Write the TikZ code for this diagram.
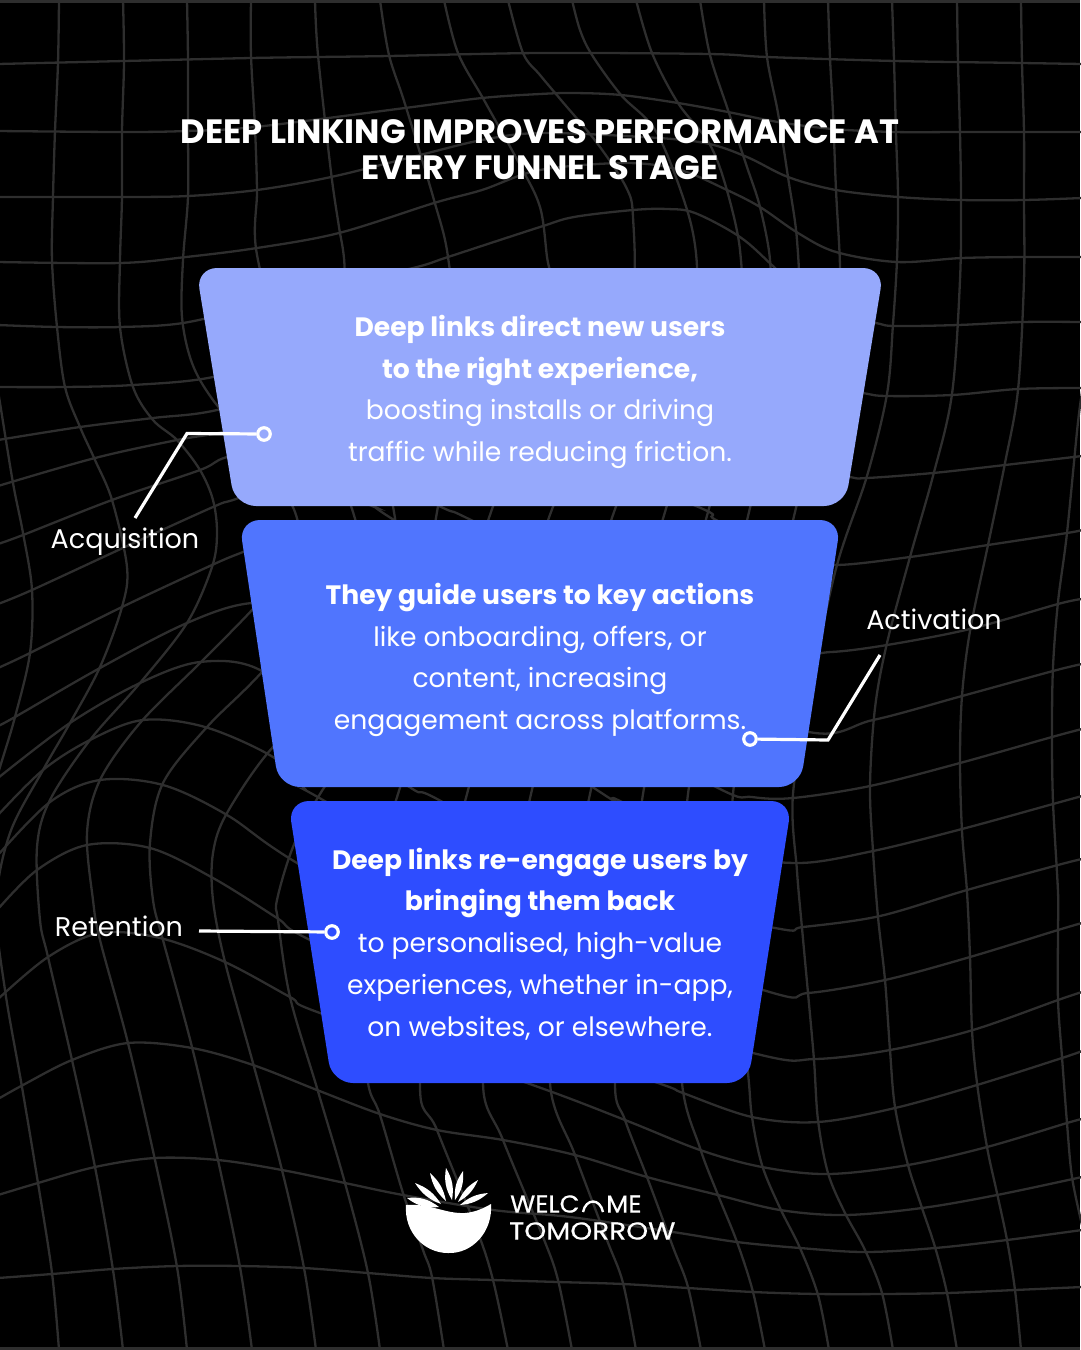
\documentclass[tikz,border=0pt]{standalone}
\usepackage{fontspec}
\setmainfont{Poppins}
\newfontfamily\logofont[FakeStretch=1.05, FakeBold=0.5]{Poppins}
\newfontfamily\logowide[FakeStretch=1.14, FakeBold=0.5]{Poppins}
\usetikzlibrary{arrows.meta, positioning, calc}
\definecolor{MeshGrey}{HTML}{2E2E2E}
\definecolor{AcqBlue}{HTML}{96A9FC}
\definecolor{ActBlue}{HTML}{5075FE}
\definecolor{RetBlue}{HTML}{2E4DFF}
\tikzset{
  meshline/.style={draw=MeshGrey, line width=2.3pt},
  boxtext/.style={text=white, align=center, font=\fontsize{26.6}{41.8}\selectfont},
  sidelabel/.style={text=white, inner sep=0pt, font=\fontsize{27}{32}\selectfont},
  leader/.style={draw=white, line width=3.2pt, line join=miter},
  ringdot/.style={circle, draw=white, line width=3.2pt, inner sep=0pt, minimum size=12.5pt},
  logotext/.style={text=white, inner sep=0pt, anchor=west, font=\fontsize{24.5}{26}\selectfont},
}
\newcommand{\mesh}[1]{\draw[meshline] plot[smooth, tension=0.55] coordinates {#1};}
\begin{document}
\begin{tikzpicture}[x=1pt, y=-1pt]
  \useasboundingbox (0,0) rectangle (1080,1350);
  \fill[black] (0,0) rectangle (1080,1350);
  % Mesh, across
  \mesh{(-2,64)(124,61)(251,58)(318,57)(389,56)(540,53)(709,54)(767,57)(895,61)(1022,63)(1082,64)}
  \mesh{(-2,131)(122,132)(186,131)(255,127)(405,108)(482,98)(540,94)(574,93)(621,95)(678,103)(728,112)(778,122)(833,129)(895,132)(960,132)(1024,132)(1082,132)}
  \mesh{(-2,197)(122,197)(188,196)(257,190)(331,177)(420,155)(482,140)(540,133)(643,137)(705,143)(747,157)(788,177)(836,190)(898,197)(961,200)(1024,200)(1082,198)}
  \mesh{(-2,262)(120,263)(186,257)(257,248)(339,233)(434,203)(482,190)(540,170)(626,163)(680,170)(727,190)(760,207)(798,233)(836,252)(897,262)(962,258)(1025,257)(1082,257)}
  \mesh{(-2,325)(57,327)(120,327)(183,323)(260,305)(340,285)(417,267)(448,257)(540,227)(574,217)(633,210)(667,209)(695,213)(740,237)(774,267)(820,310)(876,323)(895,326)(958,325)(1022,322)(1082,322)}
  \mesh{(-2,387)(65,387)(133,385)(213,377)(300,350)(500,300)(700,320)(800,380)(863,393)(887,396)(952,395)(1018,389)(1082,388)}
  \mesh{(-2,440)(80,427)(153,418)(217,410)(320,380)(520,370)(700,410)(800,465)(850,477)(867,478)(933,473)(1005,465)(1082,456)}
  \mesh{(-2,486)(95,458)(177,440)(223,432)(320,410)(500,430)(696,506)(716,520)(790,555)(833,565)(910,557)(988,545)(1067,533)(1082,530)}
  \mesh{(-2,544)(23,535)(112,500)(200,470)(227,457)(300,440)(439,506)(471,520)(650,610)(790,650)(831,652)(887,645)(970,629)(1058,604)(1082,599)}
  \mesh{(-2,604)(32,590)(125,547)(213,507)(233,500)(300,480)(372,506)(394,520)(600,650)(800,730)(873,720)(962,696)(1053,671)(1082,664)}
  \mesh{(-2,668)(30,653)(122,607)(212,565)(243,552)(300,530)(400,590)(560,700)(718,788)(752,797)(793,798)(870,786)(960,763)(1052,737)(1082,729)}
  \mesh{(-2,726)(15,717)(100,668)(187,623)(252,603)(330,610)(594,788)(618,800)(720,850)(797,863)(873,851)(962,829)(1053,804)(1082,796)}
  \mesh{(-2,778)(70,723)(140,683)(200,662)(260,670)(330,730)(411,788)(439,800)(600,890)(775,928)(803,927)(880,916)(967,890)(1058,865)(1082,859)}
  \mesh{(-2,815)(43,770)(90,740)(143,720)(205,727)(273,757)(304,788)(323,800)(500,900)(763,990)(808,993)(885,980)(970,957)(1058,930)(1082,923)}
  \mesh{(-2,855)(50,802)(100,780)(163,785)(227,815)(297,863)(500,980)(753,1053)(815,1059)(890,1050)(973,1030)(1058,1000)(1082,992)}
  \mesh{(-2,909)(37,870)(87,845)(150,848)(213,878)(277,918)(310,940)(500,1030)(658,1083)(683,1093)(752,1117)(818,1122)(895,1108)(977,1085)(1062,1058)(1082,1051)}
  \mesh{(-2,999)(48,957)(100,933)(160,938)(225,962)(290,997)(320,1013)(527,1083)(625,1120)(700,1150)(762,1167)(828,1174)(908,1165)(987,1147)(1067,1123)(1082,1119)}
  \mesh{(-2,1099)(23,1085)(72,1060)(128,1043)(192,1048)(253,1065)(317,1090)(380,1114)(437,1130)(503,1140)(575,1155)(647,1177)(718,1195)(780,1210)(845,1215)(922,1208)(997,1195)(1082,1177)}
  \mesh{(-2,1195)(38,1183)(95,1167)(155,1158)(218,1160)(282,1170)(345,1183)(403,1195)(493,1210)(570,1217)(673,1232)(737,1242)(800,1248)(865,1252)(935,1248)(1007,1240)(1082,1230)}
  \mesh{(-2,1278)(52,1274)(113,1269)(177,1266)(240,1266)(304,1268)(368,1273)(432,1278)(493,1280)(558,1282)(623,1284)(688,1288)(753,1292)(818,1294)(882,1294)(947,1293)(1015,1290)(1082,1287)}
  % Mesh, down
  \mesh{(-10,340)(0,403)(13,483)(23,533)(32,590)(30,653)(15,717)(0,767)(-10,800)}
  \mesh{(59,0)(58,63)(55,131)(53,197)(52,260)(57,327)(65,387)(80,427)(95,460)(112,500)(127,567)(122,607)(100,667)(70,723)(43,770)(10,833)(-4,905)(5,990)(22,1087)(38,1183)(52,1273)(59,1350)}
  \mesh{(123,0)(124,62)(122,131)(122,197)(120,260)(120,327)(133,387)(153,420)(177,440)(200,470)(213,500)(217,533)(212,567)(187,623)(140,683)(90,740)(50,800)(37,847)(40,920)(48,957)(72,1060)(95,1167)(113,1270)(123,1350)}
  \mesh{(187,0)(188,60)(188,133)(188,197)(183,260)(182,317)(192,363)(213,400)(255,450)(295,512)(295,560)(252,610)(200,663)(140,723)(100,780)(87,833)(93,900)(100,940)(128,1043)(155,1160)(177,1267)(187,1350)}
  \mesh{(251,0)(251,55)(255,128)(257,190)(257,255)(290,370)(353,512)(350,570)(262,672)(207,727)(163,783)(150,843)(153,900)(163,940)(192,1047)(218,1160)(240,1267)(252,1350)}
  \mesh{(315,0)(318,55)(331,172)(339,227)(344,258)(350,330)(394,512)(395,600)(340,690)(273,747)(227,813)(213,853)(213,900)(225,962)(253,1063)(282,1170)(304,1268)(316,1350)}
  \mesh{(380,0)(389,55)(405,104)(434,200)(448,257)(455,350)(437,512)(400,670)(320,794)(293,847)(277,900)(278,920)(290,997)(317,1088)(345,1183)(368,1273)(380,1350)}
  \mesh{(444,0)(458,53)(484,100)(520,165)(540,207)(547,257)(552,300)(530,400)(491,512)(440,660)(398,794)(365,900)(360,1000)(368,1083)(380,1115)(403,1193)(423,1250)(432,1277)(444,1350)}
  \mesh{(508,0)(523,53)(540,75)(561,100)(597,143)(626,187)(633,217)(632,300)(600,400)(551,512)(500,670)(467,794)(440,900)(420,1083)(437,1130)(477,1230)(493,1280)(508,1350)}
  \mesh{(572,0)(580,30)(592,55)(621,95)(657,133)(688,213)(697,267)(692,310)(660,400)(614,512)(565,670)(531,794)(500,950)(483,1083)(503,1140)(543,1237)(558,1280)(572,1350)}
  \mesh{(636,0)(652,53)(678,103)(709,143)(726,187)(740,250)(738,310)(700,400)(665,512)(620,670)(590,794)(560,950)(550,1083)(575,1155)(607,1240)(623,1283)(636,1350)}
  \mesh{(700,0)(710,55)(728,110)(747,167)(760,207)(770,260)(768,310)(745,400)(708,512)(670,670)(643,794)(625,950)(615,1083)(625,1120)(647,1177)(673,1247)(688,1287)(701,1350)}
  \mesh{(764,0)(767,57)(778,113)(788,177)(797,240)(798,310)(780,400)(749,512)(715,670)(688,794)(680,950)(682,1083)(700,1148)(718,1195)(737,1242)(753,1292)(765,1350)}
  \mesh{(828,0)(830,58)(833,113)(836,190)(840,267)(838,320)(825,400)(795,512)(760,670)(733,794)(735,950)(748,1073)(752,1117)(762,1165)(780,1208)(800,1248)(818,1295)(829,1350)}
  \mesh{(892,0)(894,60)(896,133)(898,197)(897,260)(893,324)(887,394)(867,476)(837,565)(812,680)(793,794)(797,871)(802,928)(808,993)(814,1060)(818,1120)(828,1173)(845,1213)(865,1250)(882,1293)(893,1350)}
  \mesh{(957,0)(958,62)(960,133)(961,200)(960,280)(952,394)(933,476)(910,557)(887,643)(875,708)(870,786)(873,851)(878,917)(885,980)(890,1050)(895,1107)(908,1165)(922,1208)(935,1247)(947,1293)(957,1350)}
  \mesh{(1021,0)(1022,63)(1024,133)(1024,200)(1024,280)(1018,390)(1005,463)(988,545)(970,631)(962,696)(960,761)(962,831)(967,892)(970,957)(972,1030)(977,1083)(987,1147)(997,1193)(1007,1240)(1015,1290)(1021,1350)}
  \mesh{(1084,380)(1078,422)(1067,533)(1058,602)(1053,667)(1052,733)(1053,802)(1058,892)(1058,930)(1058,1000)(1062,1057)(1067,1123)(1072,1177)(1082,1225)}
  % Top and bottom edge
  \fill[MeshGrey] (0,0) rectangle (1080,3);
  \fill[MeshGrey] (0,1347) rectangle (1080,1350);
  % Title
  \node[text=white, align=center, font=\fontsize{33.7}{36}\selectfont\bfseries] (title) at (540,150)
    {DEEP LINKING IMPROVES PERFORMANCE AT\\EVERY FUNNEL STAGE};
  % Funnel
  \fill[AcqBlue, rounded corners=21] (196,268) -- (884,268) -- (845,506) -- (235,506) -- cycle;
  \fill[ActBlue, rounded corners=21] (239,520) -- (841,520) -- (800,787) -- (279,787) -- cycle;
  \fill[RetBlue, rounded corners=21] (288,801) -- (792,801) -- (748,1083) -- (332,1083) -- cycle;
  \node[boxtext] (acqtext) at (540,392) {\textbf{Deep links direct new users}\\\textbf{to the right experience,}\\boosting installs or driving\\traffic while reducing friction.};
  \node[boxtext] (acttext) at (540,660) {\textbf{They guide users to key actions}\\like onboarding, offers, or\\content, increasing\\engagement across platforms.};
  \node[boxtext] (rettext) at (540,944) {\textbf{Deep links re-engage users by}\\\textbf{bringing them back}\\to personalised, high-value\\experiences, whether in-app,\\on websites, or elsewhere.};
  % Callouts
  \node[sidelabel] (acq) at (125,542) {Acquisition};
  \node[sidelabel] (act) at (934,619) {Activation};
  \node[sidelabel] (ret) at (119,926) {Retention};
  \node[ringdot, fill=AcqBlue] (acqdot) at (264,434) {};
  \node[ringdot, fill=ActBlue] (actdot) at (750,739) {};
  \node[ringdot, fill=RetBlue] (retdot) at (332,932) {};
  \coordinate (acqknee) at (187,433.5);
  \coordinate (acqend) at (135,518);
  \coordinate (actknee) at (828,740);
  \coordinate (actend) at (880,655);
  \coordinate (retend) at (199,931);
  \draw[leader] (acqdot) -- (acqknee) -- (acqend);
  \draw[leader] (actdot) -- (actknee) -- (actend);
  \draw[leader] (retdot) -- (retend);
  % Logo
  \fill[white] (406,1205) .. controls (430,1203) and (445,1214) .. (465,1213)
    .. controls (476,1212) and (484,1208) .. (491,1204)
    .. controls (493,1232) and (472,1254) .. (448,1253)
    .. controls (424,1253) and (404,1232) .. (406,1205) -- cycle;
  \foreach \tipx/\tipy/\basex/\basey/\bulge in {407/1198/439/1207/22, 415/1183/441/1204/18, 430/1173/446/1201/18, 446/1168/452/1200/20, 463/1171/455/1200/20, 478/1180/458/1202/18, 488/1193/460/1205/18}
    \fill[white] (\tipx,\tipy) to[bend left=\bulge] (\basex,\basey) to[bend left=\bulge] (\tipx,\tipy);
  \node[logotext, font=\logofont\fontsize{24.5}{26}\selectfont] (welc) at (510,1204) {WELC};
  \node[logotext, font=\logofont\fontsize{24.5}{26}\selectfont] (me) at (606,1204) {ME};
  \node[logotext, font=\logowide\fontsize{24.5}{26}\selectfont] (tomorrow) at (509,1231) {TOMORROW};
  \draw[white, line width=2.4pt] (583,1212) .. controls (586,1198) and (600,1198) .. (603,1212);
\end{tikzpicture}
\end{document}
